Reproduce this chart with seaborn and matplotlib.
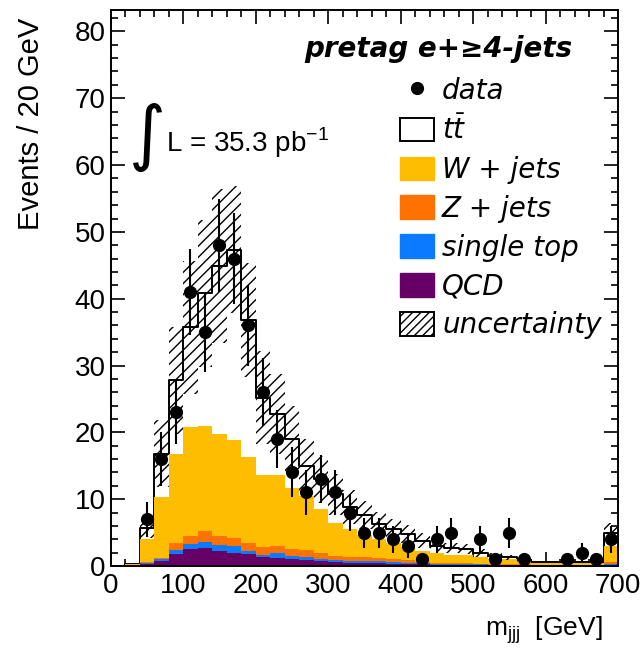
import numpy as np
import pandas as pd
import seaborn as sns
import matplotlib.pyplot as plt
from matplotlib.patches import Patch
from matplotlib.lines import Line2D

sns.set_style('ticks', rc={'text.color': 'black', 'axes.edgecolor': 'black',
                           'xtick.color': 'black', 'ytick.color': 'black',
                           'axes.labelcolor': 'black'})
plt.rcParams['font.family'] = ['Liberation Sans', 'DejaVu Sans']
plt.rcParams['mathtext.fontset'] = 'custom'
plt.rcParams['mathtext.rm'] = 'Liberation Sans'
plt.rcParams['mathtext.it'] = 'DejaVu Sans:italic'
plt.rcParams['hatch.linewidth'] = 1.0

# m_jjj bins, 20 GeV wide
edges = list(range(0, 720, 20))
centers = np.array(edges[:-1]) + 10

# expected events per bin for each process
ttbar = [0, 0.05, 1.7, 6.5, 11.1, 14.9, 19.8, 25.2, 28.5, 20.5, 11.6, 9.1, 7.3, 4.5, 4.4, 4.2, 3.3,
         3.1, 2.3, 2.1, 1.9, 1.5, 1.1, 1.0, 0.8, 0.6, 0.4, 0.2, 0.1, 0.1, 0.1, 0.1, 0.1, 0.15, 2.0]
wjets = [0, 0.2, 3.45, 9.05, 13.2, 16.3, 15.8, 15.2, 14.6, 12.9, 10.8, 10.6, 9.1, 8.1, 6.7, 5.0, 4.1,
         3.3, 2.8, 2.3, 2.0, 1.7, 1.4, 1.3, 1.3, 1.05, 0.8, 0.8, 0.55, 0.3, 0.3, 0.3, 0.3, 0.3, 2.4]
zjets = [0, 0.02, 0.1, 0.25, 1.1, 1.2, 1.6, 1.4, 1.2, 1.1, 1.1, 1.0, 1.1, 1.1, 0.9, 0.6, 0.6,
         0.55, 0.5, 0.5, 0.4, 0.2, 0.15, 0.1, 0.1, 0.1, 0.1, 0.1, 0.1, 0.1, 0.1, 0.1, 0.1, 0.05, 0.3]
stop = [0, 0.03, 0.15, 0.25, 0.65, 0.8, 0.85, 0.85, 1.0, 0.55, 0.4, 0.8, 0.5, 0.4, 0.2, 0.3, 0.3,
        0.3, 0.3, 0.25, 0.2, 0.15, 0.15, 0.1, 0.15, 0.15, 0.1, 0.1, 0.1, 0.05, 0.05, 0.05, 0.05, 0.05, 0.2]
qcd = [0, 0.05, 0.3, 0.75, 1.75, 2.5, 2.75, 2.25, 2.0, 1.75, 1.3, 1.2, 1.0, 0.9, 0.8, 0.6, 0.5,
       0.45, 0.4, 0.35, 0.3, 0.25, 0.2, 0.2, 0.15, 0.1, 0.1, 0.1, 0.05, 0.05, 0.05, 0.05, 0.05, 0.05, 0.1]
# systematic uncertainty on the total
unc = [0, 0.1, 1.5, 5.0, 8.0, 10.0, 11.0, 11.5, 9.5, 8.5, 7.0, 6.0, 5.0, 4.0, 3.5, 3.0, 2.5,
       2.1, 1.8, 1.6, 1.4, 1.1, 0.9, 0.8, 0.75, 0.6, 0.45, 0.4, 0.3, 0.2, 0.2, 0.2, 0.2, 0.2, 1.5]
# observed events
data = [0, 0, 7, 16, 23, 41, 35, 48, 46, 36, 26, 19, 14, 11, 13, 11, 8,
        5, 5, 4, 3, 1, 4, 5, 0, 4, 1, 5, 1, 0, 0, 1, 2, 1, 4]

procs = ['W + jets', 'Z + jets', 'single top', 'QCD']
colors = ['#FFBD00', '#FF7200', '#0A7BFF', '#660066']

df = pd.concat([pd.DataFrame({'m': centers, 'w': v, 'proc': p})
                for p, v in zip(procs, [wjets, zjets, stop, qcd])], ignore_index=True)
total = np.array(ttbar) + np.array(wjets) + np.array(zjets) + np.array(stop) + np.array(qcd)
df_tot = pd.DataFrame({'m': centers, 'w': total})
unc = np.array(unc)
data = np.array(data)

fig = plt.figure(figsize=(6.44, 6.51), dpi=100)
ax = fig.add_axes([110.5 / 644, 85 / 651, 507.5 / 644, 556 / 651])

# ttbar outline = total prediction
sns.histplot(data=df_tot, x='m', weights='w', bins=edges, element='step', fill=False,
             color='black', linewidth=1.4, ax=ax, zorder=1)
sns.histplot(data=df, x='m', weights='w', hue='proc', hue_order=procs,
             palette=dict(zip(procs, colors)), bins=edges, multiple='stack',
             element='step', alpha=1, linewidth=0, legend=False, ax=ax, zorder=2)
ax.stairs(total + unc, edges, baseline=total - unc, fill=True, facecolor='none',
          edgecolor='black', hatch='///', linewidth=0, zorder=3)

m = data > 0
ax.errorbar(centers[m], data[m], yerr=np.sqrt(data[m]), fmt='o', color='black',
            ms=8.5, elinewidth=1.5, capsize=0, zorder=5)

ax.set_xlim(0, 700)
ax.set_ylim(0, 83.2)
ax.set_xticks(np.arange(0, 701, 100))
ax.set_xticks(np.arange(0, 701, 20), minor=True)
ax.set_yticks(np.arange(0, 81, 10))
ax.set_yticks(np.arange(0, 83, 2), minor=True)
ax.tick_params(which='both', direction='in', top=True, right=True, width=1.2, labelsize=20)
ax.tick_params(which='major', length=10)
ax.tick_params(which='minor', length=5)
ax.tick_params(axis='x', pad=5)
ax.tick_params(axis='y', pad=3.5)
ax.set_xlabel('')
ax.set_ylabel('')
for s in ax.spines.values():
    s.set_linewidth(1.4)

fig.text(31 / 644, 1 - 18 / 651, 'Events / 20 GeV', rotation=90, ha='center', va='top', fontsize=21)
fig.text(603 / 644, 1 - 630 / 651, r'm$_{\mathrm{jjj}}$  [GeV]', ha='right', va='center', fontsize=19)

fig.text(572 / 644, 1 - 57 / 651, 'pretag e+≥4-jets', ha='right', va='baseline',
         fontsize=20, fontweight='bold', fontstyle='italic', family=['DejaVu Sans'])
fig.text(147 / 644, 1 - 137 / 651, '∫', ha='center', va='center', fontsize=51,
         family=['DejaVu Sans'])
fig.text(166 / 644, 1 - 152 / 651, r'L = 35.3 pb$^{\mathregular{-1}}$', ha='left', va='baseline',
         fontsize=20)

handles = [Line2D([], [], marker='o', color='black', ls='none', ms=8.5),
           Patch(facecolor='white', edgecolor='black', lw=1.4)]
handles += [Patch(facecolor=c, edgecolor=c) for c in colors]
handles += [Patch(facecolor='white', edgecolor='black', hatch='////', lw=1.4)]
labels = ['data', r'$t\bar{t}$'] + procs + ['uncertainty']
fig.legend(handles, labels, loc='upper left', bbox_to_anchor=(400 / 644, 1 - 77 / 651),
           frameon=False, prop={'style': 'italic', 'size': 20, 'family': 'DejaVu Sans'},
           borderpad=0, borderaxespad=0, handlelength=1.22, handleheight=0.94,
           handletextpad=0.29, labelspacing=0.39)

fig.savefig('out.png', dpi=100, facecolor='white')
